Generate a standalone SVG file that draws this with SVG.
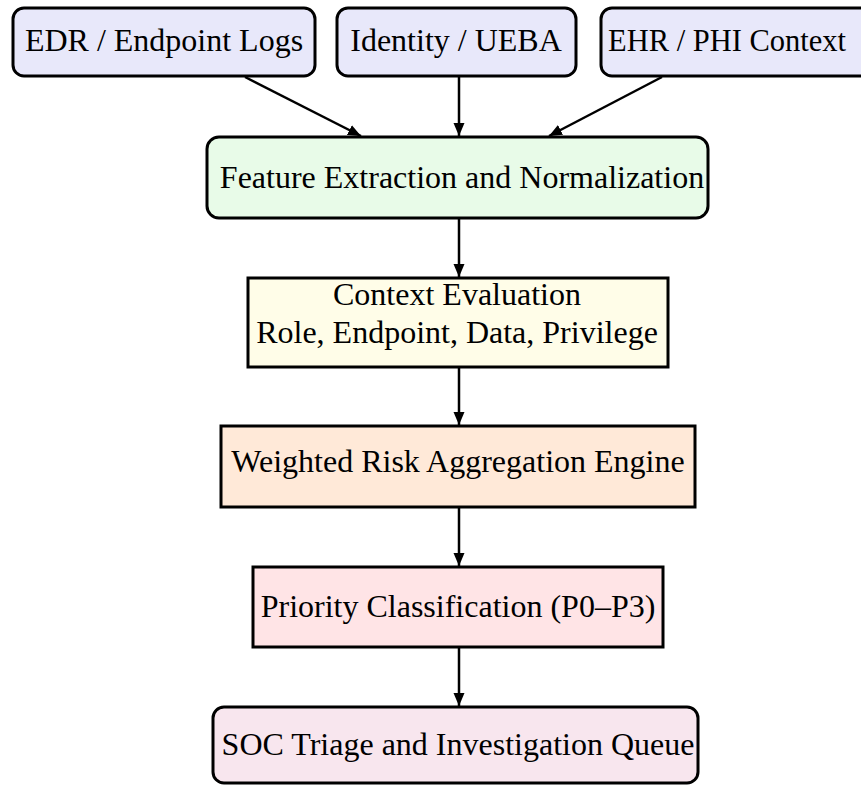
<svg xmlns="http://www.w3.org/2000/svg" width="861" height="785" viewBox="0 0 861 785">
<style>
  .box { stroke: #000; stroke-width: 3; }
  .src { fill: #e8e8fa; }
  .feat { fill: #e8fbe8; }
  .ctx { fill: #fffde8; }
  .wgt { fill: #ffe9d8; }
  .pri { fill: #ffe4e6; }
  .soc { fill: #f8e6ee; }
  text { font-family: "Liberation Serif", "Times New Roman", serif; font-size: 32px; fill: #000; text-anchor: middle; }
  .edge { stroke: #000; stroke-width: 2.5; fill: none; marker-end: url(#arr); }
</style>
<defs>
  <marker id="arr" markerUnits="userSpaceOnUse" markerWidth="14" markerHeight="14" viewBox="0 0 14 14" refX="13" refY="7" orient="auto">
    <path d="M0,1.5 L13,7 L0,12.5 Z" fill="#000"/>
  </marker>
</defs>
<rect width="861" height="785" fill="#fff"/>
<g id="connectors">
  <line class="edge" x1="245" y1="77" x2="361" y2="136"/>
  <line class="edge" x1="459" y1="77" x2="459" y2="136"/>
  <line class="edge" x1="662" y1="77" x2="549" y2="136"/>
  <line class="edge" x1="459" y1="218" x2="459" y2="277"/>
  <line class="edge" x1="459" y1="367" x2="459" y2="425"/>
  <line class="edge" x1="459" y1="507" x2="459" y2="566"/>
  <line class="edge" x1="459" y1="647" x2="459" y2="706"/>
</g>
<g id="edr">
  <rect class="box src" x="13" y="8" width="302" height="68" rx="11"/>
  <text x="164" y="51">EDR / Endpoint Logs</text>
</g>
<g id="identity">
  <rect class="box src" x="337" y="8" width="239" height="68" rx="11"/>
  <text x="456" y="51">Identity / UEBA</text>
</g>
<g id="ehr">
  <rect class="box src" x="601" y="8" width="275" height="68" rx="11"/>
  <text x="608" y="51" style="text-anchor:start;font-size:30.5px">EHR / PHI Context</text>
</g>
<g id="feature">
  <rect class="box feat" x="207" y="137" width="501" height="81" rx="12"/>
  <text x="462" y="188">Feature Extraction and Normalization</text>
</g>
<g id="context">
  <rect class="box ctx" x="248" y="278" width="420" height="89"/>
  <text x="457" y="305">Context Evaluation</text>
  <text x="457" y="343">Role, Endpoint, Data, Privilege</text>
</g>
<g id="weighted">
  <rect class="box wgt" x="221" y="426" width="474" height="81"/>
  <text x="458" y="472">Weighted Risk Aggregation Engine</text>
</g>
<g id="priority">
  <rect class="box pri" x="253" y="567" width="410" height="80"/>
  <text x="458" y="617">Priority Classification (P0–P3)</text>
</g>
<g id="soc">
  <rect class="box soc" x="213" y="707" width="485" height="76" rx="11"/>
  <text x="458" y="755">SOC Triage and Investigation Queue</text>
</g>
</svg>
